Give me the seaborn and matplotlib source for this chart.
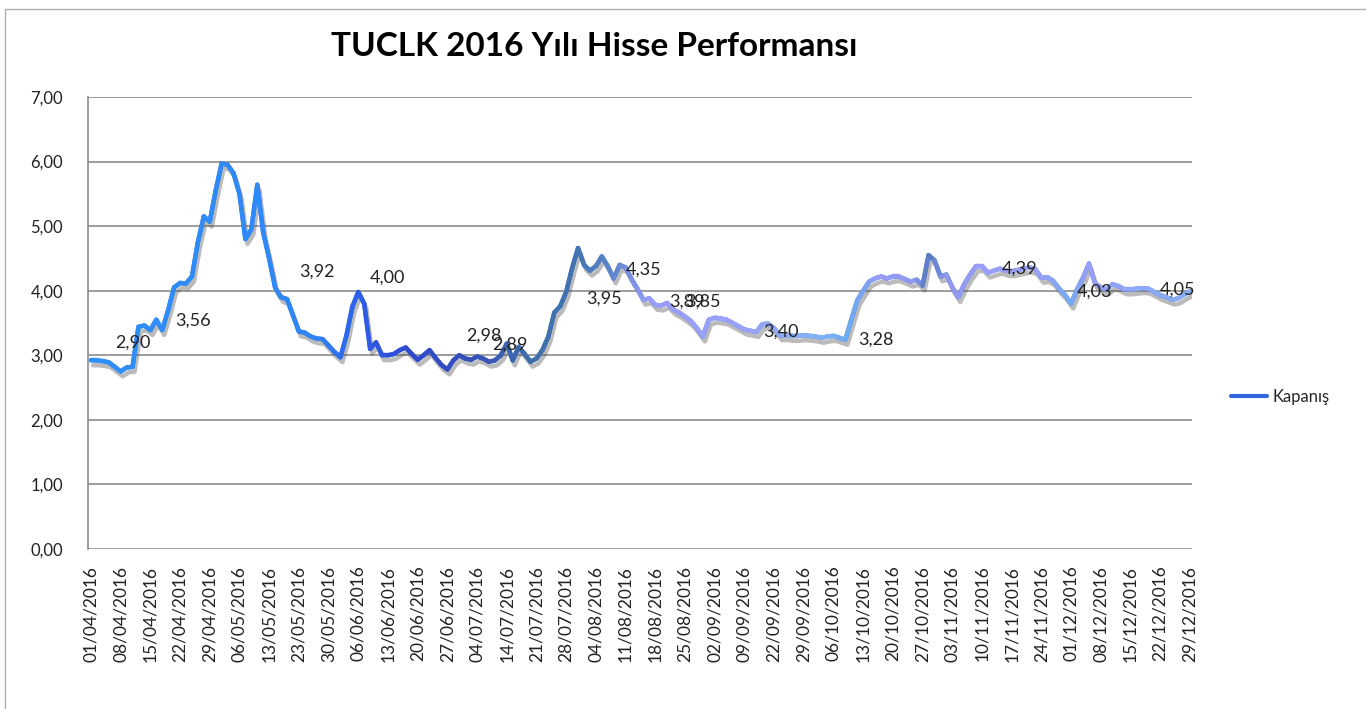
import numpy as np
import pandas as pd
import seaborn as sns
import matplotlib
matplotlib.use("Agg")
import matplotlib.pyplot as plt
import matplotlib.patheffects as pe
from matplotlib.collections import LineCollection
from matplotlib.colors import to_rgb
from matplotlib.lines import Line2D

# Kapanis (closing) values, one per trading day, 01/04/2016 .. 29/12/2016
kapanis = [
    2.92, 2.92, 2.91, 2.89, 2.82, 2.75, 2.81, 2.82, 3.44, 3.46,
    3.39, 3.55, 3.39, 3.70, 4.05, 4.12, 4.11, 4.22, 4.75, 5.15,
    5.07, 5.55, 5.97, 5.95, 5.82, 5.50, 4.80, 4.95, 5.64, 4.90,
    4.50, 4.05, 3.90, 3.87, 3.62, 3.37, 3.35, 3.29, 3.26, 3.25,
    3.15, 3.05, 2.97, 3.30, 3.75, 3.98, 3.80, 3.10, 3.20, 3.00,
    3.00, 3.02, 3.08, 3.12, 3.02, 2.93, 3.00, 3.08, 2.96, 2.85,
    2.78, 2.92, 3.00, 2.95, 2.93, 2.98, 2.95, 2.90, 2.92, 3.00,
    3.18, 2.92, 3.13, 3.02, 2.90, 2.95, 3.08, 3.29, 3.66, 3.76,
    3.98, 4.35, 4.66, 4.40, 4.31, 4.38, 4.53, 4.38, 4.19, 4.40,
    4.36, 4.18, 4.03, 3.86, 3.88, 3.78, 3.77, 3.81, 3.71, 3.66,
    3.60, 3.53, 3.42, 3.29, 3.55, 3.58, 3.57, 3.55, 3.50, 3.45,
    3.40, 3.38, 3.36, 3.48, 3.49, 3.42, 3.31, 3.31, 3.30, 3.30,
    3.31, 3.30, 3.29, 3.27, 3.29, 3.30, 3.27, 3.24, 3.55, 3.85,
    4.00, 4.14, 4.19, 4.22, 4.19, 4.22, 4.22, 4.18, 4.14, 4.17,
    4.08, 4.55, 4.47, 4.22, 4.25, 4.05, 3.90, 4.10, 4.25, 4.38,
    4.38, 4.28, 4.31, 4.34, 4.31, 4.30, 4.32, 4.34, 4.36, 4.33,
    4.20, 4.21, 4.15, 4.03, 3.93, 3.80, 4.02, 4.20, 4.42, 4.12,
    4.05, 4.02, 4.10, 4.07, 4.02, 4.02, 4.03, 4.04, 4.03, 3.98,
    3.93, 3.90, 3.86, 3.88, 3.94, 3.99,
]

# every 5th trading day gets a label
tarih_etiket = [
    "01/04/2016", "08/04/2016", "15/04/2016", "22/04/2016", "29/04/2016",
    "06/05/2016", "13/05/2016", "23/05/2016", "30/05/2016", "06/06/2016",
    "13/06/2016", "20/06/2016", "27/06/2016", "04/07/2016", "14/07/2016",
    "21/07/2016", "28/07/2016", "04/08/2016", "11/08/2016", "18/08/2016",
    "25/08/2016", "02/09/2016", "09/09/2016", "22/09/2016", "29/09/2016",
    "06/10/2016", "13/10/2016", "20/10/2016", "27/10/2016", "03/11/2016",
    "10/11/2016", "17/11/2016", "24/11/2016", "01/12/2016", "08/12/2016",
    "15/12/2016", "22/12/2016", "29/12/2016",
]

y_ticks = [0, 1, 2, 3, 4, 5, 6, 7]
y_etiket = ["0,00", "1,00", "2,00", "3,00", "4,00", "5,00", "6,00", "7,00"]

# data labels as they sit on the chart (text, trading-day index, y)
etiket_text = ["2,90", "3,56", "3,92", "4,00", "2,98", "2,89", "3,95", "4,35",
               "3,89", "3,85", "3,40", "3,28", "4,39", "4,03", "4,05"]
etiket_x = [7.1, 17.2, 38.1, 49.9, 66.1, 70.6, 86.4, 93.0,
            100.3, 103.1, 116.1, 132.1, 156.3, 168.9, 182.9]
etiket_y = [3.19, 3.53, 4.29, 4.20, 3.31, 3.16, 3.88, 4.32,
            3.83, 3.83, 3.37, 3.24, 4.34, 3.99, 4.01]

df = pd.DataFrame({"gun": np.arange(len(kapanis)), "Kapanış": kapanis})

sns.set_style("white")
plt.rcParams["font.family"] = ["Lato", "DejaVu Sans"]

fig = plt.figure(figsize=(13.66, 7.09), dpi=100)
ax = fig.add_axes([0.0644, 0.2257, 0.808, 0.6375])

# shadowed base line
sns.lineplot(data=df, x="gun", y="Kapanış", ax=ax, color="#3a7fe8", lw=3.2,
             legend=False,
             path_effects=[pe.SimpleLineShadow(offset=(1.5, -3.5), shadow_color="#555555", alpha=0.4),
                           pe.Normal()])

# colour shading along the line, like the Excel gradient
renk_idx = [0, 38, 45, 55, 66, 74, 82, 88, 94, 112, 124, 128, 133, 139, 141, 144, 150, 160, 165, 168, 175, 185]
renk_hex = ["#2e90fa", "#2f86f4", "#2f5ee8", "#3147cc", "#3a52b8", "#3f6fa8", "#4374b2", "#5f86cc",
            "#9a9cfb", "#9aa3f8", "#7fb3f0", "#6aaaf0", "#9a9cfb", "#8f98f0", "#4f78b8", "#8f96ec",
            "#9a9cfb", "#9aa0f8", "#75acf0", "#9a9cfb", "#8fa8f8", "#86acf4"]
rgb = np.array([to_rgb(c) for c in renk_hex])
mid = np.arange(len(kapanis) - 1) + 0.5
seg_cols = np.column_stack([np.interp(mid, renk_idx, rgb[:, k]) for k in range(3)])
pts = np.column_stack([df["gun"], df["Kapanış"]]).reshape(-1, 1, 2)
segs = np.concatenate([pts[:-1], pts[1:]], axis=1)
lc = LineCollection(segs, colors=seg_cols, linewidths=3.2, capstyle="round", joinstyle="round", zorder=3)
ax.add_collection(lc)

for t, xx, yy in zip(etiket_text, etiket_x, etiket_y):
    ax.text(xx, yy, t, ha="center", va="center", fontsize=13, color="#222222", zorder=4)

ax.set_xlim(-0.5, 185.3)
ax.set_ylim(0, 7)
ax.set_yticks(y_ticks)
ax.set_yticklabels(y_etiket, fontsize=12, color="#222222")
ax.set_xticks(np.arange(0, len(kapanis), 5))
ax.set_xticklabels(tarih_etiket, rotation=90, fontsize=12.5, color="#222222")
ax.tick_params(axis="x", pad=12, length=0)
ax.tick_params(axis="y", pad=18, length=0)
ax.set_xlabel("")
ax.set_ylabel("")
ax.grid(axis="y", color="#8c8c8c", lw=1.2)
ax.grid(axis="x", visible=False)
for s in ["top", "right", "bottom"]:
    ax.spines[s].set_visible(False)
ax.spines["left"].set_color("#8c8c8c")
ax.spines["left"].set_linewidth(1.2)

fig.text(0.435, 0.934, "TUCLK 2016 Yılı Hisse Performansı", ha="center", va="center",
         fontsize=24, fontweight="bold", color="black")

leg_handle = Line2D([], [], color="#3366dd", lw=3)
fig.legend([leg_handle], ["Kapanış"], loc="center left", bbox_to_anchor=(0.89, 0.44),
           frameon=False, fontsize=12, handlelength=2.2, handletextpad=0.3)

# outer chart border
fig.patches.append(plt.Rectangle((0.004, -0.02), 1.1, 1.008, transform=fig.transFigure,
                                 fill=False, edgecolor="#b0b0b0", lw=1))

fig.savefig("out.png", dpi=100)
